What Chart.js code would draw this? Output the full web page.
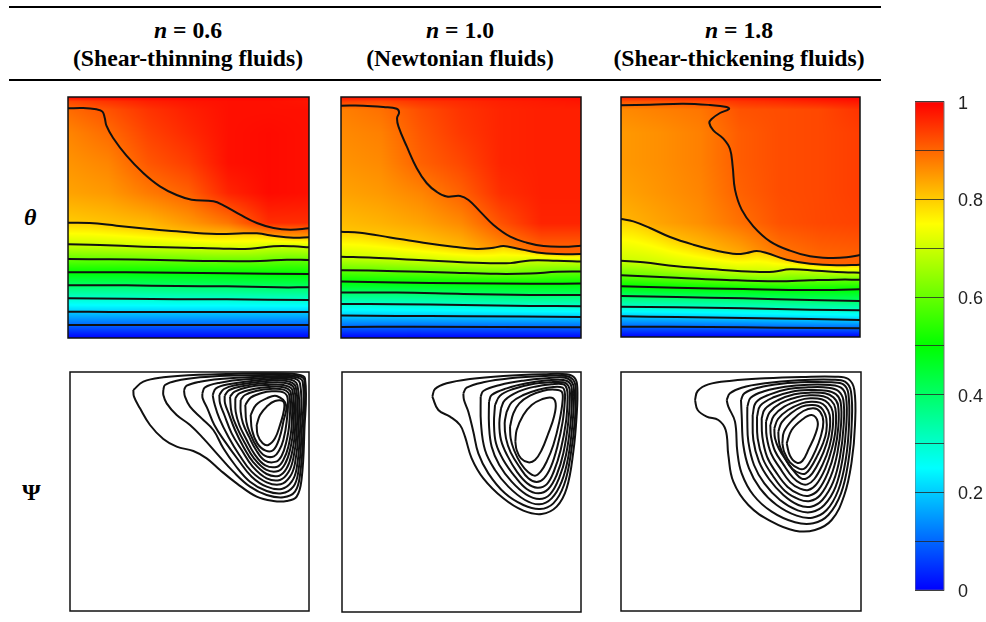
<!DOCTYPE html>
<html>
<head>
<meta charset="utf-8">
<script src="https://cdn.jsdelivr.net/npm/chart.js@4"></script>
<style>
  body { margin: 0; background: #fff; width: 986px; height: 622px; overflow: hidden; position: relative; font-family: "Liberation Serif", serif; color: #000; }
  canvas { position: absolute; }
  .rule { position: absolute; left: 9px; width: 872px; height: 2px; background: #000; }
  .head { position: absolute; width: 280px; text-align: center; font-weight: bold; font-size: 23.7px; line-height: 28px; }
  .rowlabel { position: absolute; font-weight: bold; font-size: 24px; }
</style>
</head>
<body>
<div class="rule" style="top:6px"></div>
<div class="rule" style="top:79px"></div>
<div class="head" style="left:48px;top:16px"><i>n</i> = 0.6<br>(Shear-thinning fluids)</div>
<div class="head" style="left:320px;top:16px"><i>n</i> = 1.0<br>(Newtonian fluids)</div>
<div class="head" style="left:599px;top:16px"><i>n</i> = 1.8<br>(Shear-thickening fluids)</div>
<div class="rowlabel" style="left:24px;top:204px"><i>θ</i></div>
<div class="rowlabel" style="left:22px;top:479px">Ψ</div>

<canvas id="theta06"></canvas>
<canvas id="theta10"></canvas>
<canvas id="theta18"></canvas>
<canvas id="psi06"></canvas>
<canvas id="psi10"></canvas>
<canvas id="psi18"></canvas>
<canvas id="colorbar"></canvas>

<script>
// Colour bar
const barStops = [0, 0.25, 0.5, 0.75, 1];
const barColors = ['#0000ff', '#00ffff', '#00ff00', '#ffff00', '#ff0000'];

// Theta contours, levels 0.9 down to 0.1, flat x,y pairs
const thetaLevels = [0.9, 0.8, 0.7, 0.6, 0.5, 0.4, 0.3, 0.2, 0.1];

const theta06Lines = [
  [25,56, 70,55, 110,59, 128,66, 135,85, 140,108, 160,145, 200,198, 250,250, 300,290, 350,316, 395,330, 460,335, 490,347, 540,375, 590,400, 640,415, 690,420, 746,416],
  [25,399, 90,400, 170,408, 260,417, 350,425, 470,433, 550,431, 590,431, 650,440, 700,444, 746,443],
  [25,464, 120,466, 250,471, 380,474, 490,477, 570,477, 640,470, 700,470, 746,473],
  [25,508, 150,509, 300,511, 450,514, 600,514, 680,510, 746,511],
  [25,548, 200,548, 350,549, 500,551, 746,553],
  [25,587, 200,587, 350,589, 500,590, 650,593, 746,593],
  [25,626, 200,627, 350,629, 500,629, 746,631],
  [25,666, 150,667, 350,667, 746,667],
  [25,706, 746,706]
];
const theta10Lines = [
  [33,48, 100,48, 160,52, 200,57, 207,68, 201,85, 205,110, 230,170, 260,235, 290,280, 320,306, 350,320, 390,318, 415,330, 450,365, 490,405, 540,440, 590,458, 640,468, 700,470, 752,467],
  [33,425, 90,428, 180,442, 280,458, 370,470, 440,477, 490,473, 520,468, 560,475, 620,487, 680,492, 752,492],
  [33,500, 130,503, 250,509, 370,515, 480,519, 540,519, 600,511, 680,512, 752,514],
  [33,540, 200,543, 350,547, 500,551, 600,550, 680,545, 752,544],
  [33,574, 200,577, 400,579, 600,581, 752,580],
  [33,607, 200,607, 400,611, 600,614, 752,614],
  [33,641, 200,642, 400,644, 600,647, 752,648],
  [33,676, 200,677, 400,678, 752,680],
  [33,710, 250,709, 752,711]
];
const theta18Lines = [
  [33,47, 120,45, 220,42, 300,46, 350,52, 357,58, 330,70, 305,88, 298,100, 310,122, 340,147, 360,178, 368,230, 375,300, 395,360, 430,410, 480,455, 540,483, 600,500, 660,505, 710,503, 750,496],
  [33,388, 70,395, 120,415, 180,442, 250,465, 320,483, 380,493, 410,490, 440,484, 470,490, 530,510, 600,522, 680,527, 750,525],
  [33,513, 100,518, 200,530, 330,540, 430,546, 490,546, 540,539, 620,543, 700,548, 750,549],
  [33,557, 200,564, 350,571, 500,575, 600,572, 680,570, 750,570],
  [33,590, 200,594, 400,598, 600,601, 750,599],
  [33,619, 200,622, 400,626, 600,631, 750,634],
  [33,651, 200,653, 400,656, 600,660, 750,662],
  [33,680, 200,682, 400,685, 600,688, 750,691],
  [33,711, 300,712, 500,714, 750,716]
];

// Theta values above the 0.8 contour, sampled on a coarse grid
const theta06Cols = [25, 145, 265, 385, 505, 625, 746];
const theta06Rows = [22, 35, 60, 130, 220, 310, 400, 445];
const theta06Grid = [
  [1, 1, 1, 1, 1, 1, 0.99],
  [0.93, 0.95, 0.97, 0.98, 0.985, 0.985, 0.98],
  [0.895, 0.92, 0.95, 0.97, 0.985, 0.985, 0.985],
  [0.87, 0.895, 0.935, 0.96, 0.985, 0.99, 0.985],
  [0.855, 0.87, 0.915, 0.94, 0.985, 0.99, 0.985],
  [0.84, 0.85, 0.88, 0.905, 0.965, 0.99, 0.985],
  [0.8, 0.81, 0.82, 0.85, 0.885, 0.955, 0.955],
  [0.78, 0.78, 0.79, 0.8, 0.8, 0.83, 0.84]
];
const theta10Cols = [33, 153, 273, 393, 513, 633, 752];
const theta10Rows = [22, 35, 60, 130, 220, 310, 400, 470];
const theta10Grid = [
  [0.99, 0.99, 0.99, 0.99, 0.99, 0.99, 0.99],
  [0.94, 0.93, 0.95, 0.96, 0.97, 0.975, 0.98],
  [0.875, 0.89, 0.925, 0.95, 0.965, 0.97, 0.97],
  [0.865, 0.875, 0.915, 0.945, 0.965, 0.97, 0.97],
  [0.855, 0.865, 0.905, 0.93, 0.965, 0.97, 0.97],
  [0.84, 0.85, 0.87, 0.905, 0.955, 0.97, 0.97],
  [0.815, 0.825, 0.84, 0.865, 0.92, 0.965, 0.965],
  [0.79, 0.79, 0.8, 0.82, 0.865, 0.905, 0.905]
];
const theta18Cols = [33, 152, 272, 391, 511, 630, 750];
const theta18Rows = [22, 35, 60, 130, 220, 310, 400, 500];
const theta18Grid = [
  [0.98, 0.98, 0.98, 0.985, 0.99, 0.995, 1],
  [0.92, 0.92, 0.93, 0.95, 0.96, 0.97, 0.98],
  [0.865, 0.875, 0.885, 0.92, 0.925, 0.93, 0.95],
  [0.85, 0.86, 0.875, 0.91, 0.925, 0.93, 0.94],
  [0.85, 0.86, 0.875, 0.91, 0.925, 0.93, 0.94],
  [0.84, 0.855, 0.87, 0.905, 0.925, 0.93, 0.94],
  [0.82, 0.84, 0.86, 0.89, 0.92, 0.93, 0.935],
  [0.75, 0.77, 0.8, 0.83, 0.88, 0.9, 0.905]
];

// Stream function contours, outermost first, flat x,y pairs
const psi06Lines = [
  [40,75, 70,50, 130,37, 220,30, 320,27, 430,25, 530,28, 555,40, 553,200, 545,340, 530,395, 500,408, 460,408, 410,395, 350,355, 300,315, 260,280, 220,258, 170,245, 130,222, 90,180, 60,130, 42,95],
  [130,75, 135,60, 170,47, 240,37, 320,32, 430,30, 530,32, 553,45, 550,200, 540,330, 525,380, 490,397, 440,390, 390,365, 340,320, 290,265, 250,220, 210,180, 170,150, 140,115, 130,90],
  [192,75, 200,62, 240,50, 300,42, 400,36, 520,35, 548,50, 545,200, 535,320, 520,365, 485,385, 440,378, 390,350, 345,300, 310,250, 280,195, 245,160, 210,125, 195,95],
  [247,85, 255,67, 300,53, 380,43, 510,38, 540,55, 540,200, 530,310, 515,350, 485,372, 440,365, 395,335, 355,285, 315,230, 283,180, 262,130, 248,100],
  [278,90, 288,70, 330,57, 400,47, 500,42, 532,60, 535,200, 525,295, 510,335, 482,358, 440,352, 395,320, 358,270, 325,215, 298,160, 283,115],
  [298,90, 312,72, 350,60, 420,50, 495,47, 527,65, 530,200, 520,280, 505,322, 480,345, 440,340, 398,305, 365,255, 335,205, 313,150, 300,115],
  [314,92, 328,75, 370,63, 430,55, 490,53, 522,70, 525,195, 515,268, 500,310, 478,332, 440,327, 400,292, 370,245, 345,195, 326,145, 315,115],
  [330,95, 344,80, 385,66, 440,60, 490,60, 517,75, 520,190, 510,255, 495,297, 475,318, 438,314, 402,280, 375,235, 352,190, 335,145],
  [346,100, 358,85, 400,72, 445,66, 490,67, 512,82, 515,180, 505,245, 490,285, 472,305, 436,301, 404,268, 380,225, 358,180, 347,140],
  [362,105, 375,90, 412,77, 450,72, 490,74, 508,90, 508,175, 498,235, 485,272, 468,290, 435,287, 408,255, 387,215, 369,175, 362,140],
  [376,120, 392,98, 425,84, 455,79, 490,82, 503,100, 500,170, 490,225, 478,255, 462,274, 434,272, 410,245, 390,205, 379,170],
  [392,150, 408,120, 440,100, 470,93, 498,120, 490,170, 478,220, 460,255, 437,257, 412,235, 396,195],
  [410,180, 420,150, 440,125, 465,108, 490,110, 492,135, 480,180, 465,220, 445,240, 428,235, 413,210]
];
const psi10Lines = [
  [37,95, 45,72, 80,55, 150,42, 250,33, 370,28, 440,28, 465,40, 472,70, 470,150, 460,260, 440,370, 410,425, 365,447, 310,437, 250,400, 190,340, 155,280, 135,215, 120,180, 90,155, 55,135],
  [130,85, 140,68, 190,52, 270,40, 370,33, 438,33, 460,45, 467,70, 465,160, 452,270, 432,360, 400,415, 360,432, 310,420, 255,385, 205,325, 175,265, 160,200, 145,140, 132,105],
  [182,95, 190,78, 240,60, 310,47, 380,40, 435,38, 455,50, 462,75, 458,170, 445,275, 425,350, 395,400, 358,418, 315,405, 265,365, 225,315, 195,255, 183,175],
  [207,110, 215,90, 260,70, 320,55, 385,46, 430,45, 450,55, 456,80, 452,170, 438,270, 417,340, 390,388, 358,402, 318,388, 275,350, 238,300, 215,245, 207,180],
  [225,120, 240,92, 280,72, 335,58, 390,52, 430,52, 445,62, 450,85, 445,170, 430,265, 410,330, 385,372, 355,385, 320,372, 285,335, 250,285, 228,235, 222,175],
  [243,130, 255,105, 295,80, 345,65, 395,58, 430,58, 440,70, 443,95, 438,170, 422,255, 402,318, 380,358, 352,368, 322,355, 292,322, 262,272, 243,225, 238,175],
  [260,140, 275,112, 310,90, 355,74, 400,66, 428,68, 434,80, 435,100, 428,170, 412,245, 393,305, 372,340, 350,351, 325,340, 300,308, 272,262, 258,220, 254,175],
  [270,185, 280,145, 298,115, 330,92, 370,77, 405,74, 425,80, 428,105, 418,170, 400,240, 380,290, 362,320, 345,332, 325,322, 302,295, 282,255, 272,220],
  [286,230, 290,195, 310,150, 335,120, 365,103, 395,98, 407,115, 402,155, 385,205, 365,255, 345,285, 325,292, 303,280, 290,255]
];
const psi18Lines = [
  [30,105, 38,78, 70,58, 140,47, 240,40, 350,36, 450,35, 490,42, 508,75, 510,180, 500,290, 478,390, 440,465, 390,495, 330,497, 260,470, 190,420, 145,350, 130,270, 122,195, 100,165, 65,155, 38,135],
  [125,105, 135,85, 170,68, 240,55, 340,46, 440,44, 480,50, 498,80, 500,180, 490,290, 468,385, 430,450, 385,475, 330,472, 260,440, 205,390, 170,325, 157,260, 150,170, 130,125],
  [168,105, 178,85, 220,68, 290,56, 370,51, 440,52, 475,58, 490,85, 492,180, 482,285, 460,375, 425,435, 382,458, 335,452, 275,420, 225,370, 192,310, 175,240, 170,150],
  [187,125, 197,98, 240,78, 300,65, 370,59, 435,60, 468,68, 483,95, 484,180, 473,280, 452,365, 418,420, 380,441, 338,436, 285,405, 238,355, 207,300, 190,230, 187,170],
  [203,150, 213,112, 255,88, 310,72, 370,67, 430,68, 460,78, 475,105, 476,180, 465,275, 445,350, 412,405, 378,425, 340,420, 295,390, 252,342, 222,290, 205,225],
  [216,155, 226,122, 268,96, 320,80, 370,75, 425,77, 453,88, 467,112, 468,180, 457,265, 437,335, 406,390, 375,408, 342,403, 300,378, 262,330, 234,282, 218,220],
  [230,160, 240,132, 280,105, 328,88, 372,83, 420,85, 445,97, 459,120, 460,185, 449,258, 429,322, 400,375, 372,392, 344,388, 308,366, 272,320, 246,275, 232,215],
  [243,170, 254,142, 286,115, 335,97, 374,91, 415,94, 438,106, 451,130, 452,190, 441,250, 421,310, 394,358, 370,375, 345,371, 316,352, 284,308, 258,265, 245,215],
  [256,180, 267,152, 298,125, 342,106, 376,100, 410,103, 430,115, 443,140, 443,190, 433,245, 413,298, 388,342, 367,358, 348,356, 324,338, 295,298, 270,258, 258,215],
  [268,190, 279,162, 309,135, 350,115, 378,110, 405,113, 422,125, 434,150, 434,195, 424,238, 405,285, 382,325, 365,340, 350,341, 332,325, 305,288, 282,252, 270,220],
  [280,200, 290,172, 318,145, 350,125, 380,120, 400,123, 414,135, 424,160, 424,200, 414,235, 397,272, 377,308, 362,325, 348,326, 322,312, 300,280, 285,245, 281,222],
  [292,235, 297,200, 322,165, 355,138, 385,130, 405,140, 415,170, 407,215, 390,260, 372,295, 358,311, 342,311, 315,292, 298,262],
  [305,235, 320,195, 350,165, 380,150, 398,170, 392,205, 372,250, 352,288, 335,293, 315,272]
];

function toPoints(flat) {
  const pts = [];
  for (let i = 0; i < flat.length; i += 2) pts.push({ x: flat[i], y: flat[i + 1] });
  return pts;
}

function closed(flat) {
  return flat.concat(flat.slice(0, 2));
}

function lookup(flat, x) {
  for (let i = 0; i < flat.length - 2; i += 2) {
    if (x <= flat[i + 2]) {
      const t = (x - flat[i]) / (flat[i + 2] - flat[i]);
      return flat[i + 1] + t * (flat[i + 3] - flat[i + 1]);
    }
  }
  return flat[flat.length - 1];
}

function segment(axis, v) {
  let i = 0;
  while (i < axis.length - 2 && v > axis[i + 1]) i++;
  return [i, Math.min(1, Math.max(0, (v - axis[i]) / (axis[i + 1] - axis[i])))];
}

function gridValue(p, x, y) {
  const [c, tx] = segment(p.cols, x);
  const [r, ty] = segment(p.rows, y);
  const top = p.grid[r][c] * (1 - tx) + p.grid[r][c + 1] * tx;
  const bot = p.grid[r + 1][c] * (1 - tx) + p.grid[r + 1][c + 1] * tx;
  return top * (1 - ty) + bot * ty;
}

function thetaAt(p, x, y, crossings, bottom) {
  // crossings runs from the 0.8 contour down to the 0.1 contour
  if (y < crossings[0]) return Math.max(0.8, gridValue(p, x, y));
  for (let i = 0; i < crossings.length; i++) {
    const lower = i + 1 < crossings.length ? crossings[i + 1] : bottom;
    if (y <= lower) {
      const upLevel = thetaLevels[i + 1];
      const lowLevel = i + 1 < crossings.length ? thetaLevels[i + 2] : 0;
      return upLevel + (lowLevel - upLevel) * (y - crossings[i]) / (lower - crossings[i]);
    }
  }
  return 0;
}

function colorOf(v) {
  const rgb = [[0, 0, 255], [0, 255, 255], [0, 255, 0], [255, 255, 0], [255, 0, 0]];
  const s = Math.min(3.999, Math.max(0, v * 4));
  const i = Math.floor(s);
  const t = s - i;
  return rgb[i].map((c, k) => c + (rgb[i + 1][k] - c) * t);
}

const fieldPlugin = {
  id: 'field',
  beforeDatasetsDraw(chart, args, opts) {
    const p = opts.panel;
    if (!p) return;
    const area = chart.chartArea;
    const w = Math.round(area.width), h = Math.round(area.height);
    const off = document.createElement('canvas');
    off.width = w;
    off.height = h;
    const octx = off.getContext('2d');
    const img = octx.createImageData(w, h);
    const xs = chart.scales.x, ys = chart.scales.y;
    for (let i = 0; i < w; i++) {
      const x = xs.getValueForPixel(area.left + i + 0.5);
      const crossings = p.lines.slice(1).map(l => lookup(l, x));
      for (let j = 0; j < h; j++) {
        const y = ys.getValueForPixel(area.top + j + 0.5);
        const c = colorOf(thetaAt(p, x, y, crossings, ys.max));
        const k = (j * w + i) * 4;
        img.data[k] = c[0];
        img.data[k + 1] = c[1];
        img.data[k + 2] = c[2];
        img.data[k + 3] = 255;
      }
    }
    octx.putImageData(img, 0, 0);
    chart.ctx.drawImage(off, area.left, area.top, area.width, area.height);
  }
};

const framePlugin = {
  id: 'frame',
  afterDatasetsDraw(chart, args, opts) {
    const a = chart.chartArea;
    chart.ctx.save();
    chart.ctx.strokeStyle = opts.color || '#111';
    chart.ctx.lineWidth = opts.width || 1.5;
    chart.ctx.strokeRect(a.left, a.top, a.width, a.height);
    chart.ctx.restore();
  }
};

// Left, top, width, height of a panel, then the data range it shows
function drawPanel(id, box, range, sets, panel) {
  const canvas = document.getElementById(id);
  const pad = 3;
  canvas.width = box[2] + pad * 2;
  canvas.height = box[3] + pad * 2;
  canvas.style.left = (box[0] - pad) + 'px';
  canvas.style.top = (box[1] - pad) + 'px';
  new Chart(canvas, {
    type: 'scatter',
    data: {
      datasets: sets.map(flat => ({
        data: toPoints(flat),
        showLine: true,
        borderColor: '#111',
        borderWidth: 2,
        pointRadius: 0,
        tension: 0.4
      }))
    },
    options: {
      responsive: false,
      animation: false,
      layout: { padding: pad },
      plugins: { legend: { display: false }, tooltip: { enabled: false }, field: { panel: panel } },
      scales: {
        x: { type: 'linear', display: false, min: range[0], max: range[1] },
        y: { type: 'linear', display: false, min: range[2], max: range[3], reverse: true }
      }
    },
    plugins: [fieldPlugin, framePlugin]
  });
}

drawPanel('theta06', [68, 97, 241, 241], [25, 746, 22, 745], theta06Lines,
  { lines: theta06Lines, cols: theta06Cols, rows: theta06Rows, grid: theta06Grid });
drawPanel('theta10', [341, 97, 240, 241], [33, 752, 22, 743], theta10Lines,
  { lines: theta10Lines, cols: theta10Cols, rows: theta10Rows, grid: theta10Grid });
drawPanel('theta18', [621, 97, 239, 240], [33, 750, 22, 742], theta18Lines,
  { lines: theta18Lines, cols: theta18Cols, rows: theta18Rows, grid: theta18Grid });

drawPanel('psi06', [70, 372, 239, 239], [-150, 567, 21, 738], psi06Lines.map(closed));
drawPanel('psi10', [342, 372, 239, 240], [-234, 483, 21, 741], psi10Lines.map(closed));
drawPanel('psi18', [621, 372, 240, 239], [-192, 528, 21, 738], psi18Lines.map(closed));

// Colour bar on the right
const barCanvas = document.getElementById('colorbar');
barCanvas.width = 71;
barCanvas.height = 538;
barCanvas.style.left = '915px';
barCanvas.style.top = '77px';
new Chart(barCanvas, {
  type: 'bar',
  data: {
    labels: ['θ'],
    datasets: [{
      data: [[0, 1]],
      barPercentage: 1,
      categoryPercentage: 1,
      backgroundColor(ctx) {
        const chart = ctx.chart;
        if (!chart.chartArea) return barColors[0];
        const y = chart.scales.y;
        const g = chart.ctx.createLinearGradient(0, y.getPixelForValue(0), 0, y.getPixelForValue(1));
        barStops.forEach((s, i) => g.addColorStop(s, barColors[i]));
        return g;
      }
    }]
  },
  options: {
    responsive: false,
    animation: false,
    plugins: { legend: { display: false }, tooltip: { enabled: false }, frame: { color: '#777', width: 1 } },
    scales: {
      x: { display: false },
      y: {
        position: 'right',
        min: 0,
        max: 1,
        afterFit(scale) { scale.width = 42; },
        border: { display: false },
        grid: { color: 'rgba(40,40,40,0.8)', z: 1, drawTicks: false },
        ticks: {
          stepSize: 0.1,
          padding: 14,
          labelOffset: 2,
          color: '#222',
          font: { family: '"Liberation Sans"', size: 18 },
          callback(v) {
            const tenth = Math.round(v * 10);
            return tenth % 2 === 0 ? String(tenth / 10) : '';
          }
        }
      }
    }
  },
  plugins: [framePlugin]
});
</script>
</body>
</html>
